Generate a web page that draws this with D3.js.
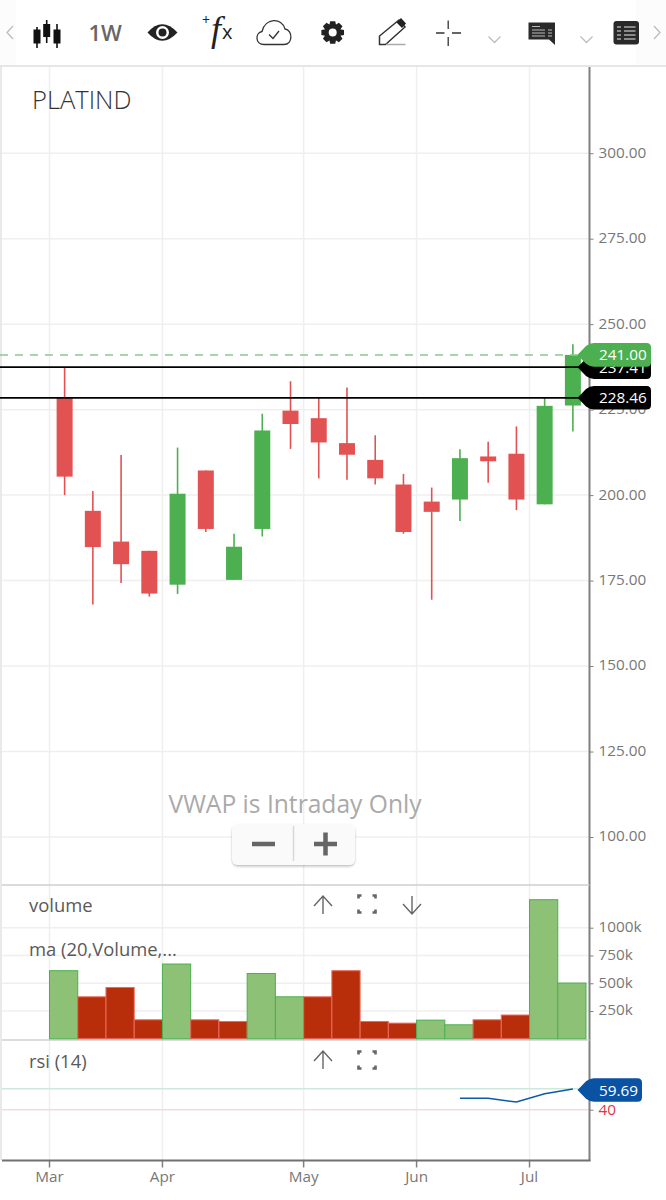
<!DOCTYPE html>
<html>
<head>
<meta charset="utf-8">
<style>
  html, body { margin: 0; padding: 0; background: #fff; }
  svg { display: block; }
  text { font-family: "Open Sans", sans-serif; }
  .axis text { font-size: 15.3px; fill: #777; font-family: "Open Sans", sans-serif; }
  .axis path, .axis line { stroke: #808080; }
  .grid { stroke: #efefef; stroke-width: 1.5; }
  .paneltxt { font-size: 18.4px; fill: #595959; }
</style>
</head>
<body>
<div id="chart"></div>
<script src="https://d3js.org/d3.v7.min.js"></script>
<script>
  // weekly bars
  const weeks = ["Mar1","Mar2","Mar3","Mar4","Apr1","Apr2","Apr3","Apr4","Apr5","May1","May2","May3","May4","Jun1","Jun2","Jun3","Jun4","Jul1","Jul2"];
  const opens  = [228.5,195.4,186.4,183.7,173.8,207.2,175.2,190.1,224.7,222.5,215.2,210.3,203.1,198.1,198.7,211.3,212.1,197.3,226.2];
  const closes = [205.4,184.8,179.8,171.2,200.4,190.1,184.9,218.9,220.8,215.4,211.8,204.9,189.2,195.1,210.8,209.9,198.7,226.1,241.0];
  const highs  = [237.5,201.2,211.7,183.7,213.9,207.2,188.7,223.8,233.3,228.5,231.5,217.5,206.2,202.2,213.4,215.6,220.1,228.5,244.1];
  const lows   = [200.0,168.0,174.3,170.3,171.1,189.2,175.2,187.9,213.5,204.9,204.5,203.1,188.7,169.4,192.4,203.6,195.6,197.3,218.6];
  const volumes = [613,378,462,171,673,171,156,588,378,378,613,156,141,168,126,171,214,1252,502].map(d => d * 1000);
  const volumeUp = [1,0,0,0,1,0,0,1,1,0,0,0,0,1,1,0,0,1,1];
  const rsiWeeks = ["Jun2","Jun3","Jun4","Jul1","Jul2"];
  const rsiValues = [50.9,50.9,47.3,55.2,59.69];

  const priceTicks = [100,125,150,175,200,225,250,275,300];
  const volumeTicks = [250000,500000,750000,1000000];
  const rsiLevels = [{v: 60, c: "#cfe8de"}, {v: 40, c: "#f9d9dc"}];
  const priceTags = [
    {v: 237.41, c: "#000"},
    {v: 241.00, c: "#4caf50", dash: true},
    {v: 228.46, c: "#000"}
  ];

  const width = 666, height = 1200;
  const rightX = 589.5, leftX = 2;

  const svg = d3.select("#chart").append("svg")
    .attr("width", width)
    .attr("height", height);

  const x = d3.scaleBand().domain(weeks).range([49.5, 586]);
  const candleX = w => x(w) + x.bandwidth() / 2 + 1;

  const yPrice = d3.scaleLinear().domain([100, 300]).range([837, 153.2]);
  const yVol = d3.scaleLinear().domain([0, 1000000]).range([1038.8, 927.7]);
  const yRsi = d3.scaleLinear().domain([40, 60]).range([1109.7, 1088.7]);

  // frame bits and grid
  const monthWeeks = weeks.filter(w => w.endsWith("1"));

  svg.append("rect").attr("x", 0).attr("y", 0).attr("width", 16).attr("height", 65).attr("fill", "#fcfcfc");
  svg.append("rect").attr("x", 636).attr("y", 0).attr("width", 30).attr("height", 65).attr("fill", "#fcfcfc");
  svg.append("line").attr("x1", 0).attr("x2", width).attr("y1", 66).attr("y2", 66)
    .attr("stroke", "#e6e6e6").attr("stroke-width", 2);
  svg.append("line").attr("x1", 1).attr("x2", 1).attr("y1", 66).attr("y2", 1160)
    .attr("stroke", "#e2e2e2").attr("stroke-width", 1.5);

  svg.selectAll("line.vgrid").data(monthWeeks).join("line")
    .attr("class", "grid vgrid")
    .attr("x1", d => x(d)).attr("x2", d => x(d))
    .attr("y1", 67).attr("y2", 1160);

  svg.selectAll("line.pgrid").data(priceTicks).join("line")
    .attr("class", "grid pgrid")
    .attr("x1", leftX).attr("x2", rightX)
    .attr("y1", d => yPrice(d)).attr("y2", d => yPrice(d));

  svg.selectAll("line.vlgrid").data(volumeTicks).join("line")
    .attr("class", "grid vlgrid")
    .attr("x1", leftX).attr("x2", rightX)
    .attr("y1", d => yVol(d)).attr("y2", d => yVol(d));

  svg.selectAll("line.rsilevel").data(rsiLevels).join("line")
    .attr("class", "rsilevel")
    .attr("x1", leftX).attr("x2", rightX)
    .attr("y1", d => yRsi(d.v)).attr("y2", d => yRsi(d.v))
    .attr("stroke", d => d.c).attr("stroke-width", 1.5);

  // axes
  const priceAxis = svg.append("g").attr("class", "axis")
    .attr("transform", `translate(${rightX},0)`)
    .call(d3.axisRight(yPrice).tickValues(priceTicks).tickSize(4).tickPadding(5).tickFormat(d => d.toFixed(2)));
  priceAxis.select(".domain").remove();
  priceAxis.selectAll("text").attr("y", -1);

  const volAxis = svg.append("g").attr("class", "axis")
    .attr("transform", `translate(${rightX},0)`)
    .call(d3.axisRight(yVol).tickValues(volumeTicks).tickSize(4).tickPadding(5).tickFormat(d => (d / 1000) + "k"));
  volAxis.select(".domain").remove();
  volAxis.selectAll("text").attr("y", -1);

  const rsiAxis = svg.append("g").attr("class", "axis")
    .attr("transform", `translate(${rightX},0)`)
    .call(d3.axisRight(yRsi).tickValues([40]).tickSize(4).tickPadding(5));
  rsiAxis.select(".domain").remove();
  rsiAxis.select("text").style("fill", "#e0354a");

  const timeAxis = svg.append("g").attr("class", "axis")
    .attr("transform", "translate(0,1160.5)")
    .call(d3.axisBottom(x).tickValues(monthWeeks).tickSize(7).tickPadding(4).tickFormat(d => d.slice(0, 3)));
  timeAxis.select(".domain").remove();
  // ticks sit on the left edge of the band, not its centre
  timeAxis.selectAll(".tick").attr("transform", d => `translate(${x(d)},0)`);
  timeAxis.selectAll("line").attr("stroke-width", 1.5);

  svg.append("line").attr("x1", rightX).attr("x2", rightX).attr("y1", 67).attr("y2", 1161)
    .attr("stroke", "#808080").attr("stroke-width", 2);
  svg.append("line").attr("x1", leftX).attr("x2", rightX + 1).attr("y1", 1160.5).attr("y2", 1160.5)
    .attr("stroke", "#707070").attr("stroke-width", 2);

  // panel separators
  svg.selectAll("line.sep").data([885, 1040]).join("line")
    .attr("class", "sep")
    .attr("x1", leftX).attr("x2", rightX)
    .attr("y1", d => d).attr("y2", d => d)
    .attr("stroke", "#cfcfcf").attr("stroke-width", 1.5);

  // candles
  const up = i => closes[i] >= opens[i];
  const candleColor = i => up(i) ? "#4caf50" : "#e25252";
  const bodyW = 16;

  svg.append("g").selectAll("line").data(weeks).join("line")
    .attr("x1", d => candleX(d)).attr("x2", d => candleX(d))
    .attr("y1", (d, i) => yPrice(highs[i])).attr("y2", (d, i) => yPrice(lows[i]))
    .attr("stroke", (d, i) => candleColor(i))
    .attr("stroke-width", 1.6);

  svg.append("g").selectAll("rect").data(weeks).join("rect")
    .attr("x", d => candleX(d) - bodyW / 2)
    .attr("width", bodyW)
    .attr("y", (d, i) => yPrice(Math.max(opens[i], closes[i])))
    .attr("height", (d, i) => Math.abs(yPrice(opens[i]) - yPrice(closes[i])))
    .attr("fill", (d, i) => candleColor(i));

  // volume bars
  svg.append("g").selectAll("rect").data(weeks).join("rect")
    .attr("x", d => x(d))
    .attr("width", x.bandwidth())
    .attr("y", (d, i) => yVol(volumes[i]))
    .attr("height", (d, i) => yVol(0) - yVol(volumes[i]))
    .attr("fill", (d, i) => volumeUp[i] ? "#8cc176" : "#b92e0a")
    .attr("stroke", (d, i) => volumeUp[i] ? "#4caf50" : "#ea6a5e")
    .attr("stroke-width", 1);

  // rsi line
  svg.append("path")
    .attr("d", d3.line().x((d, i) => candleX(rsiWeeks[i])).y(d => yRsi(d))(rsiValues))
    .attr("fill", "none").attr("stroke", "#0d5aa7").attr("stroke-width", 1.5);

  // price level lines and their tags
  function tag(cy, right, fill, label) {
    const t = cy - 11.8, b = cy + 11.8, l = 590, tip = 577.5, r = 4.5;
    svg.append("path")
      .attr("d", `M${tip},${cy}Q${tip + 2},${cy - 2} ${l - 4},${t + 3}Q${l},${t} ${l + 4},${t}H${right - r}Q${right},${t} ${right},${t + r}` +
        `V${b - r}Q${right},${b} ${right - r},${b}H${l + 4}Q${l},${b} ${l - 4},${b - 3}Q${tip + 2},${cy + 2} ${tip},${cy}Z`)
      .attr("fill", fill);
    svg.append("text").attr("x", 599).attr("y", cy + 5.5)
      .attr("fill", "#fff").style("font-size", "15.3px").text(label);
  }

  svg.selectAll("line.level").data(priceTags).join("line")
    .attr("class", "level")
    .attr("x1", 0).attr("x2", 580)
    .attr("y1", d => yPrice(d.v)).attr("y2", d => yPrice(d.v))
    .attr("stroke", d => d.dash ? "#8cc98e" : "#000")
    .attr("stroke-width", d => d.dash ? 1.5 : 1.8)
    .attr("stroke-dasharray", d => d.dash ? "8,7" : null);

  priceTags.forEach(d => tag(yPrice(d.v), 651, d.c, d.v.toFixed(2)));
  tag(yRsi(rsiValues[4]) + 1, 642, "#0a52a3", rsiValues[4].toFixed(2));

  // captions
  svg.append("text").attr("x", 32).attr("y", 109)
    .style("font-size", "25.5px").style("font-weight", 300).attr("fill", "#333").text("PLATIND");
  svg.append("text").attr("x", 295).attr("y", 813).attr("text-anchor", "middle")
    .style("font-size", "24.6px").attr("fill", "#aaa").text("VWAP is Intraday Only");
  svg.append("text").attr("class", "paneltxt").attr("x", 29).attr("y", 912).text("volume");
  svg.append("text").attr("class", "paneltxt").attr("x", 29).attr("y", 955.5).text("ma (20,Volume,...");
  svg.append("text").attr("class", "paneltxt").attr("x", 29).attr("y", 1068).text("rsi (14)");

  // zoom buttons
  const shadow = svg.append("defs").append("filter").attr("id", "sh")
    .attr("x", "-10%").attr("y", "-20%").attr("width", "120%").attr("height", "150%");
  shadow.append("feDropShadow").attr("dx", 0).attr("dy", 1.5).attr("stdDeviation", 1.2)
    .attr("flood-color", "#000").attr("flood-opacity", 0.25);
  svg.append("rect").attr("x", 232).attr("y", 824).attr("width", 123).attr("height", 41).attr("rx", 6)
    .attr("fill", "#fafafa").attr("filter", "url(#sh)");
  svg.append("line").attr("x1", 293.5).attr("x2", 293.5).attr("y1", 826).attr("y2", 861)
    .attr("stroke", "#d8d8d8").attr("stroke-width", 1.5);
  svg.append("path").attr("d", "M252,844H275M314,844H337M325.5,832.5V855.5")
    .attr("stroke", "#666").attr("stroke-width", 4.5).attr("fill", "none");

  // panel arrows
  const small = svg.append("g").attr("fill", "none").attr("stroke", "#666").attr("stroke-width", 1.4);
  [[323, 905], [323, 1060]].forEach(p => {
    small.append("path").attr("d", `M${p[0] - 9},${p[1] + 1}L${p[0]},${p[1] - 9}L${p[0] + 9},${p[1] + 1}M${p[0]},${p[1] - 9}V${p[1] + 9}`);
  });
  small.append("path").attr("d", "M403,904L412,914L421,904M412,914V896");
  [[367, 904], [367, 1060]].forEach(p => {
    const a = 8.5, b = 3;
    small.append("path").attr("stroke-width", 2.6)
      .attr("d", `M${p[0] - a},${p[1] - a + b}V${p[1] - a}H${p[0] - a + b}M${p[0] + a - b},${p[1] - a}H${p[0] + a}V${p[1] - a + b}` +
        `M${p[0] + a},${p[1] + a - b}V${p[1] + a}H${p[0] + a - b}M${p[0] - a + b},${p[1] + a}H${p[0] - a}V${p[1] + a - b}`);
  });

  // toolbar icons
  const bar = svg.append("g");
  const chev = "#bdbdbd";
  bar.append("path").attr("d", "M13,26L7,32.5L13,39M654,26L660,32.5L654,39M488.5,36.5L494.5,42.5L500.5,36.5M580.5,36.5L586.5,42.5L592.5,36.5")
    .attr("fill", "none").attr("stroke", chev).attr("stroke-width", 1.3);

  // candle icon
  [[37, 29.5, 43.5, 27, 48], [46.7, 24, 37, 20, 43], [57, 29.5, 43.5, 24, 48]].forEach(c => {
    bar.append("rect").attr("x", c[0] - 3.5).attr("width", 7).attr("y", c[1]).attr("height", c[2] - c[1]).attr("fill", "#111");
    bar.append("line").attr("x1", c[0]).attr("x2", c[0]).attr("y1", c[3]).attr("y2", c[4]).attr("stroke", "#111").attr("stroke-width", 1.6);
  });
  bar.append("text").attr("x", 88.5).attr("y", 41).style("font-size", "22px").style("font-weight", 600).attr("fill", "#666").text("1W");

  // eye
  bar.append("path").attr("d", "M147.5,32.5Q162,16 177.5,32.5Q162,49 147.5,32.5Z").attr("fill", "#222");
  bar.append("circle").attr("cx", 162.5).attr("cy", 32.5).attr("r", 6.5).attr("fill", "#fff");
  bar.append("circle").attr("cx", 162.5).attr("cy", 32.5).attr("r", 4).attr("fill", "#222");

  // fx
  bar.append("text").attr("x", 202).attr("y", 25).style("font-size", "14px").attr("fill", "#222").text("+");
  bar.append("text").attr("x", 211).attr("y", 41).style("font-family", "'Liberation Serif'").style("font-style", "italic")
    .style("font-size", "36px").attr("fill", "#222").text("f");
  bar.append("text").attr("x", 222).attr("y", 39).style("font-size", "20px").attr("fill", "#222").text("x");

  // cloud with tick
  bar.append("path").attr("d", "M264,44.5C255,44.5 255,33 262,31.5C265,18 282,17 285,29C293,30 293,44.5 284,44.5Z")
    .attr("fill", "none").attr("stroke", "#333").attr("stroke-width", 1.3);
  bar.append("path").attr("d", "M269,34.5L273,38.5L279,31").attr("fill", "none").attr("stroke", "#333").attr("stroke-width", 1.3);

  // gear, eight teeth
  const gearPts = [];
  d3.range(8).forEach(k => {
    const a = k * Math.PI / 4;
    [[-0.42, 8.2], [-0.22, 11.6], [0.22, 11.6], [0.42, 8.2]].forEach(p => {
      gearPts.push([332.7 + p[1] * Math.cos(a + p[0]), 32.5 + p[1] * Math.sin(a + p[0])]);
    });
  });
  bar.append("path").attr("d", d3.line()(gearPts) + "Z").attr("fill", "#222");
  bar.append("circle").attr("cx", 332.7).attr("cy", 32.5).attr("r", 4).attr("fill", "#fff");

  // pencil
  bar.append("path").attr("d", "M379.5,44.5V36L399,20L405,27L385.5,44.5Z").attr("fill", "none").attr("stroke", "#333").attr("stroke-width", 1.5);
  bar.append("path").attr("d", "M396.5,22.5L401,18L406,23.5L402,28Z").attr("fill", "#222");
  bar.append("line").attr("x1", 386).attr("x2", 405.5).attr("y1", 44.5).attr("y2", 44.5).attr("stroke", "#aaa").attr("stroke-width", 1.5);

  // crosshair
  bar.append("path").attr("d", "M436,33H444.5M452,33H461M448.2,20.5V29M448.2,37V46").attr("stroke", "#333").attr("stroke-width", 1.3);

  // comment box
  bar.append("path").attr("d", "M528.5,22.5H555V45L549,39.5H528.5Z").attr("fill", "#2a2a2a");
  bar.append("path").attr("d", "M532,26.5H540M532,30H545M532,33H545M532,36H545M548,30H552M548,33H552M548,36H552")
    .attr("stroke", "#bbb").attr("stroke-width", 1);

  // table
  bar.append("rect").attr("x", 613.5).attr("y", 21).attr("width", 25.5).attr("height", 23.5).attr("rx", 3).attr("fill", "#2a2a2a");
  bar.append("path").attr("d", "M617,27H621M617,31H621M617,35H621M617,39H621M624,27H635.5M624,31H635.5M624,35H635.5M624,39H635.5")
    .attr("stroke", "#aaa").attr("stroke-width", 1.4);
</script>
</body>
</html>
